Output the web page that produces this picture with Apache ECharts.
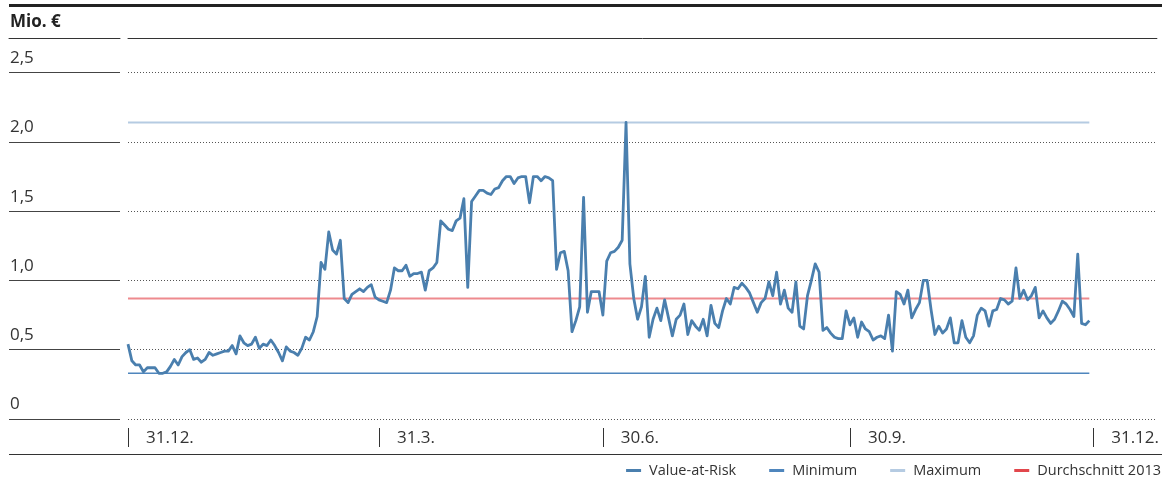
<!DOCTYPE html>
<html>
<head>
<meta charset="utf-8">
<script src="https://cdn.jsdelivr.net/npm/echarts@6/dist/echarts.min.js"></script>
<style>
  html, body { margin: 0; padding: 0; background: #ffffff; overflow: hidden; }
  #chart { width: 1162px; height: 483px; }
</style>
</head>
<body>
<div id="chart"></div>
<script>
// Daily Value-at-Risk 2013 (Mio. €), one value per trading day
const varValues = [
  0.54, 0.42, 0.39, 0.39, 0.34, 0.37, 0.37, 0.37, 0.33, 0.33,
  0.34, 0.38, 0.43, 0.39, 0.45, 0.48, 0.50, 0.43, 0.44, 0.41,
  0.43, 0.48, 0.46, 0.47, 0.48, 0.49, 0.49, 0.53, 0.47, 0.60,
  0.55, 0.53, 0.54, 0.59, 0.51, 0.54, 0.53, 0.57, 0.53, 0.48,
  0.42, 0.52, 0.49, 0.48, 0.46, 0.51, 0.59, 0.57, 0.63, 0.74,
  1.13, 1.08, 1.35, 1.22, 1.19, 1.29, 0.87, 0.84, 0.90, 0.92,
  0.94, 0.92, 0.95, 0.97, 0.88, 0.86, 0.85, 0.84, 0.93, 1.09,
  1.07, 1.07, 1.11, 1.03, 1.05, 1.05, 1.06, 0.93, 1.07, 1.09,
  1.13, 1.43, 1.40, 1.37, 1.36, 1.43, 1.45, 1.59, 0.95, 1.57,
  1.61, 1.65, 1.65, 1.63, 1.62, 1.66, 1.67, 1.72, 1.75, 1.75,
  1.70,
  1.74, 1.75, 1.75, 1.56, 1.75, 1.75, 1.72, 1.75, 1.74, 1.72,
  1.08, 1.20, 1.21, 1.07, 0.63, 0.71, 0.81, 1.60, 0.77, 0.92,
  0.92, 0.92, 0.75, 1.14, 1.20, 1.21, 1.24, 1.29, 2.14, 1.12,
  0.87, 0.72, 0.81, 1.03, 0.59, 0.72, 0.80, 0.71, 0.86, 0.73,
  0.60, 0.72, 0.75, 0.83, 0.61, 0.71, 0.67, 0.64, 0.72, 0.60,
  0.82,
  0.69, 0.66, 0.78, 0.87, 0.83, 0.95, 0.94, 0.98, 0.95, 0.91,
  0.84, 0.77, 0.84, 0.87, 0.99, 0.89, 1.06, 0.83, 0.93, 0.80,
  0.77, 0.99, 0.67, 0.65, 0.89, 1.00, 1.12, 1.06, 0.64, 0.66,
  0.62, 0.59, 0.58, 0.58, 0.78, 0.68, 0.73, 0.59, 0.70, 0.65,
  0.63, 0.57, 0.59, 0.60, 0.58, 0.75, 0.49, 0.92, 0.90, 0.83,
  0.93, 0.73, 0.79, 0.84, 1.00, 1.00, 0.79, 0.61, 0.67, 0.62,
  0.65, 0.73, 0.55, 0.55, 0.71, 0.59, 0.55, 0.60, 0.75, 0.80,
  0.78, 0.67, 0.78, 0.79, 0.87, 0.86, 0.83, 0.85, 1.09, 0.87,
  0.93, 0.86, 0.89, 0.95, 0.73, 0.78, 0.73, 0.69, 0.72, 0.78,
  0.85, 0.83, 0.79, 0.74, 1.19, 0.69, 0.68, 0.71
];

// Reference levels for the year
const minimumValue = 0.33;
const maximumValue = 2.14;
const averageValue = 0.87;

// Quarter-end markers (trading-day index) and their labels
const quarterIndex = [0, 65, 123, 187, 250];
const quarterLabels = ['31.12.', '31.3.', '30.6.', '30.9.', '31.12.'];

// Value axis
const yMin = 0;
const yMax = 2.75;
const yStep = 0.5;

// Day axis runs a little past the last day so the grid reaches the right edge
const dayMin = 0;
const dayMax = 266.5;
const dayStep = 0.5;

const lastIndex = varValues.length - 1;
const flatLine = v => [[0, v], [lastIndex, v]];

const FONT = '"Open Sans", "Noto Sans", sans-serif';
const INK = '#333333';

const chart = echarts.init(document.getElementById('chart'), null, { renderer: 'canvas' });

const dayAxisBase = {
  gridIndex: 0,
  type: 'value',
  min: dayMin,
  max: dayMax,
  interval: dayStep
};

chart.setOption({
  animation: false,
  backgroundColor: '#ffffff',
  textStyle: { fontFamily: FONT, color: INK },
  title: {
    text: 'Mio. €',
    left: 10,
    top: 14,
    padding: 0,
    textStyle: { fontFamily: FONT, fontSize: 17, fontWeight: 'bold', color: '#222222' }
  },
  legend: {
    right: 1,
    top: 463,
    padding: 0,
    icon: 'rect',
    itemWidth: 15,
    itemHeight: 3,
    itemGap: 33,
    textStyle: { fontFamily: FONT, fontSize: 14.5, color: INK, padding: [0, 0, 0, 3] },
    data: ['Value-at-Risk', 'Minimum', 'Maximum', 'Durchschnitt 2013']
  },
  graphic: [
    { type: 'line', shape: { x1: 9, y1: 5.5, x2: 1162, y2: 5.5 }, style: { stroke: '#222222', lineWidth: 3 } },
    { type: 'line', shape: { x1: 9, y1: 454.5, x2: 1162, y2: 454.5 }, style: { stroke: '#333333', lineWidth: 1.2 } }
  ],
  grid: [
    { left: 128, right: 0, top: 38, bottom: 64 },
    { left: 9, width: 111, top: 38, bottom: 64 }
  ],
  xAxis: [
    Object.assign({}, dayAxisBase, {
      position: 'bottom',
      offset: 28,
      axisLine: { show: false, onZero: false },
      splitLine: { show: false },
      axisTick: {
        show: true,
        inside: true,
        length: 19,
        customValues: quarterIndex,
        lineStyle: { color: INK, width: 1 }
      },
      axisLabel: {
        show: true,
        customValues: quarterIndex,
        formatter: v => quarterLabels[quarterIndex.indexOf(v)] || '',
        align: 'left',
        verticalAlign: 'middle',
        margin: -9,
        padding: [0, 0, 0, 18],
        fontFamily: FONT,
        fontSize: 17,
        color: INK
      }
    }),
    Object.assign({}, dayAxisBase, {
      position: 'top',
      axisLine: { show: true, onZero: false, lineStyle: { color: INK, width: 1 } },
      axisTick: { show: false },
      axisLabel: { show: false },
      splitLine: { show: false }
    }),
    {
      gridIndex: 1,
      type: 'value',
      min: 0,
      max: 1,
      position: 'top',
      axisLine: { show: true, onZero: false, lineStyle: { color: INK, width: 1 } },
      axisTick: { show: false },
      axisLabel: { show: false },
      splitLine: { show: false }
    }
  ],
  yAxis: [
    {
      gridIndex: 0,
      type: 'value',
      min: yMin,
      max: yMax,
      interval: yStep,
      axisLine: { show: false },
      axisTick: { show: false },
      splitLine: { show: true, lineStyle: { color: '#555555', width: 1, type: [1, 2] } },
      axisLabel: {
        show: true,
        margin: 118,
        align: 'left',
        verticalAlign: 'bottom',
        padding: [0, 0, 6, 0],
        fontFamily: FONT,
        fontSize: 17,
        color: INK,
        formatter: v => {
          if (Math.abs(v / yStep - Math.round(v / yStep)) > 1e-6) return '';
          return v === 0 ? '0' : v.toFixed(1).replace('.', ',');
        }
      }
    },
    {
      gridIndex: 1,
      type: 'value',
      min: yMin,
      max: yMax,
      interval: yStep,
      axisLine: { show: false },
      axisTick: { show: false },
      axisLabel: { show: false },
      splitLine: { show: true, lineStyle: { color: '#444444', width: 1 } }
    }
  ],
  series: [
    {
      name: 'Minimum',
      type: 'line',
      xAxisIndex: 0,
      yAxisIndex: 0,
      data: flatLine(minimumValue),
      symbol: 'none',
      itemStyle: { color: '#4f86bd' },
      lineStyle: { color: '#4f86bd', width: 1.4 },
      z: 2
    },
    {
      name: 'Maximum',
      type: 'line',
      xAxisIndex: 0,
      yAxisIndex: 0,
      data: flatLine(maximumValue),
      symbol: 'none',
      itemStyle: { color: '#b5cbe2' },
      lineStyle: { color: '#b5cbe2', width: 2 },
      z: 2
    },
    {
      name: 'Durchschnitt 2013',
      type: 'line',
      xAxisIndex: 0,
      yAxisIndex: 0,
      data: flatLine(averageValue),
      symbol: 'none',
      itemStyle: { color: '#e2474c' },
      lineStyle: { color: '#ee8a8e', width: 2 },
      z: 3
    },
    {
      name: 'Value-at-Risk',
      type: 'line',
      xAxisIndex: 0,
      yAxisIndex: 0,
      data: varValues.map((v, i) => [i, v]),
      symbol: 'none',
      showSymbol: false,
      itemStyle: { color: '#4a7fae' },
      lineStyle: { color: '#4a7fae', width: 2.8, join: 'round' },
      z: 5
    }
  ]
});
</script>
</body>
</html>
